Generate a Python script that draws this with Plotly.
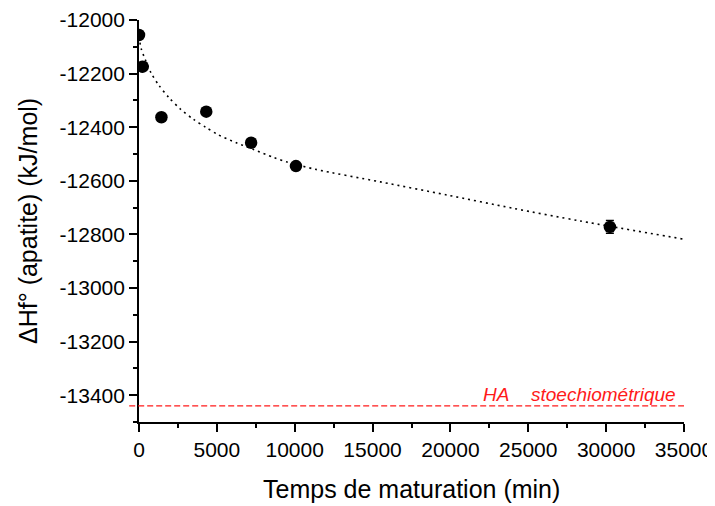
import plotly.graph_objects as go

# Measured points
time_min = [0, 240, 1440, 4320, 7200, 10080, 30240]
dhf = [-12056, -12174, -12363, -12342, -12458, -12545, -12772]
dhf_err = [10, 12, 0, 0, 0, 0, 24]

# Fit curve
fit_x = [0, 148, 790, 1284, 1927, 2672, 3508, 4277, 5050, 6249, 7360, 8645, 9460,
         11322, 15497, 19780, 24057, 28340, 35000]
fit_y = [-12062, -12108, -12199, -12244, -12290, -12333, -12371, -12400, -12427,
         -12458, -12483, -12513, -12529, -12557, -12604, -12653, -12703, -12750, -12818]

# Stoichiometric HA reference
ha_value = -13440

x_tickvals = [0, 5000, 10000, 15000, 20000, 25000, 30000, 35000]
x_ticktext = ["0", "5000", "10000", "15000", "20000", "25000", "30000", "35000"]
y_tickvals = [-12000, -12200, -12400, -12600, -12800, -13000, -13200, -13400]
y_ticktext = ["-12000", "-12200", "-12400", "-12600", "-12800", "-13000", "-13200", "-13400"]

FONT = "Liberation Sans, Arial, sans-serif"
RED = "#ff1a1a"

fig = go.Figure()

fig.add_trace(go.Scatter(
    x=fit_x, y=fit_y, mode="lines",
    line=dict(color="black", width=1.6, dash="2px,4px", shape="spline", smoothing=0.8),
    showlegend=False, hoverinfo="skip"))

fig.add_trace(go.Scatter(
    x=time_min, y=dhf, mode="markers",
    marker=dict(color="black", size=12.5),
    error_y=dict(type="data", array=dhf_err, visible=True, color="black",
                 thickness=1.5, width=4),
    showlegend=False))

fig.add_shape(type="line", xref="paper", yref="y",
              x0=-0.018, x1=1, y0=ha_value, y1=ha_value,
              line=dict(color=RED, width=1.3, dash="6px,3px"))

fig.add_annotation(x=22914, y=ha_value + 42, xref="x", yref="y",
                   text="<i>HA</i>", showarrow=False,
                   font=dict(family=FONT, size=19, color=RED),
                   xanchor="center", yanchor="middle")
fig.add_annotation(x=29818, y=ha_value + 42, xref="x", yref="y",
                   text="<i>stoechiométrique</i>", showarrow=False,
                   font=dict(family=FONT, size=19, color=RED),
                   xanchor="center", yanchor="middle")

# Axis titles
fig.add_annotation(x=0.5, y=0, xref="paper", yref="paper", yshift=-67,
                   text="Temps de maturation (min)", showarrow=False,
                   font=dict(family=FONT, size=25, color="black"),
                   xanchor="center", yanchor="middle")
fig.add_annotation(x=0, y=0.5, xref="paper", yref="paper", xshift=-111,
                   text="ΔHf° (apatite) (kJ/mol)", showarrow=False, textangle=-90,
                   font=dict(family=FONT, size=25, color="black"),
                   xanchor="center", yanchor="middle")

axis_common = dict(
    showgrid=False, zeroline=False, showline=True, linecolor="black", linewidth=1.7,
    ticks="outside", ticklen=8, tickwidth=1.5, tickcolor="black", automargin=False,
    tickfont=dict(family=FONT, size=21, color="black"),
)

fig.update_xaxes(range=[0, 35000], tickvals=x_tickvals, ticktext=x_ticktext,
                 minor=dict(ticks="outside", ticklen=4, tickwidth=1.5,
                            tickcolor="black", dtick=2500, tick0=0, showgrid=False),
                 **axis_common)
fig.update_yaxes(range=[-13500, -12000], tickvals=y_tickvals, ticktext=y_ticktext,
                 minor=dict(ticks="outside", ticklen=4, tickwidth=1.5,
                            tickcolor="black", dtick=100, tick0=-12000, showgrid=False),
                 **axis_common)

fig.update_layout(
    width=715, height=506,
    margin=dict(l=131, r=39, t=12, b=92),
    plot_bgcolor="white", paper_bgcolor="white",
    font=dict(family=FONT, color="black"),
)

fig.write_html("out.html")
